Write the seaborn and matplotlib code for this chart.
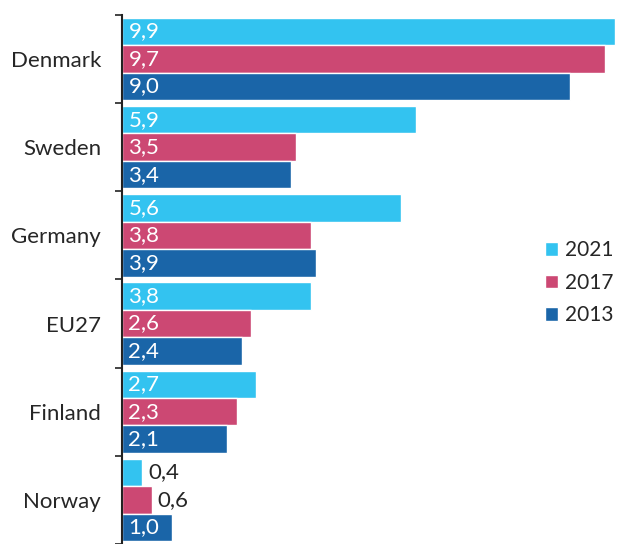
import pandas as pd
import matplotlib.pyplot as plt
import seaborn as sns

countries = ["Denmark", "Sweden", "Germany", "EU27", "Finland", "Norway"]
years = ["2021", "2017", "2013"]
v2021 = [9.9, 5.9, 5.6, 3.8, 2.7, 0.4]
v2017 = [9.7, 3.5, 3.8, 2.6, 2.3, 0.6]
v2013 = [9.0, 3.4, 3.9, 2.4, 2.1, 1.0]
colors = ["#33C3F0", "#CC4873", "#1A65A8"]

df = pd.DataFrame({
    "country": countries * 3,
    "year": [y for y in years for _ in countries],
    "value": v2021 + v2017 + v2013,
})

sns.set_theme(style="white")
plt.rcParams["font.family"] = ["Lato", "DejaVu Sans"]
fs = 16

fig = plt.figure(figsize=(6.17, 5.44), dpi=100)
ax = fig.add_axes([122 / 617, 0, 1 - 122 / 617, 1])
sns.barplot(data=df, y="country", x="value", hue="year", orient="h",
            palette=colors, width=0.935, gap=0, ax=ax, saturation=1)

ax.set_xlim(0, 9.94)
ax.set_ylim(5.44, -0.669)
ax.set_xlabel("")
ax.set_ylabel("")
ax.set_xticks([])
for s in ["top", "right", "bottom"]:
    ax.spines[s].set_visible(False)
ax.spines["left"].set_bounds(-0.5, 5.5)
ax.spines["left"].set_color("#222222")
ax.spines["left"].set_linewidth(1.5)

# ticks at group borders, labels at centres
ax.set_yticks([i - 0.5 for i in range(len(countries) + 1)])
ax.set_yticklabels([])
ax.tick_params(axis="y", which="major", length=5, width=1.2, color="#222222", left=True)
ax.set_yticks(range(len(countries)), minor=True)
ax.set_yticklabels(countries, minor=True, fontsize=fs, color="#262626")
ax.tick_params(axis="y", which="minor", length=0, pad=15)

for cont in ax.containers:
    for bar in cont:
        v = bar.get_width()
        y = bar.get_y() + bar.get_height() / 2
        txt = f"{v:.1f}".replace(".", ",")
        if v >= 1.0:
            ax.text(0.13, y, txt, va="center", ha="left", color="white", fontsize=fs)
        else:
            ax.text(v + 0.12, y, txt, va="center", ha="left", color="#262626", fontsize=fs)

ax.legend(loc="center left", bbox_to_anchor=(0.838, 0.48), frameon=False,
          fontsize=15, handlelength=0.6, handleheight=0.6, handletextpad=0.35,
          labelspacing=0.6, borderaxespad=0)

fig.savefig("out.png", dpi=100)
